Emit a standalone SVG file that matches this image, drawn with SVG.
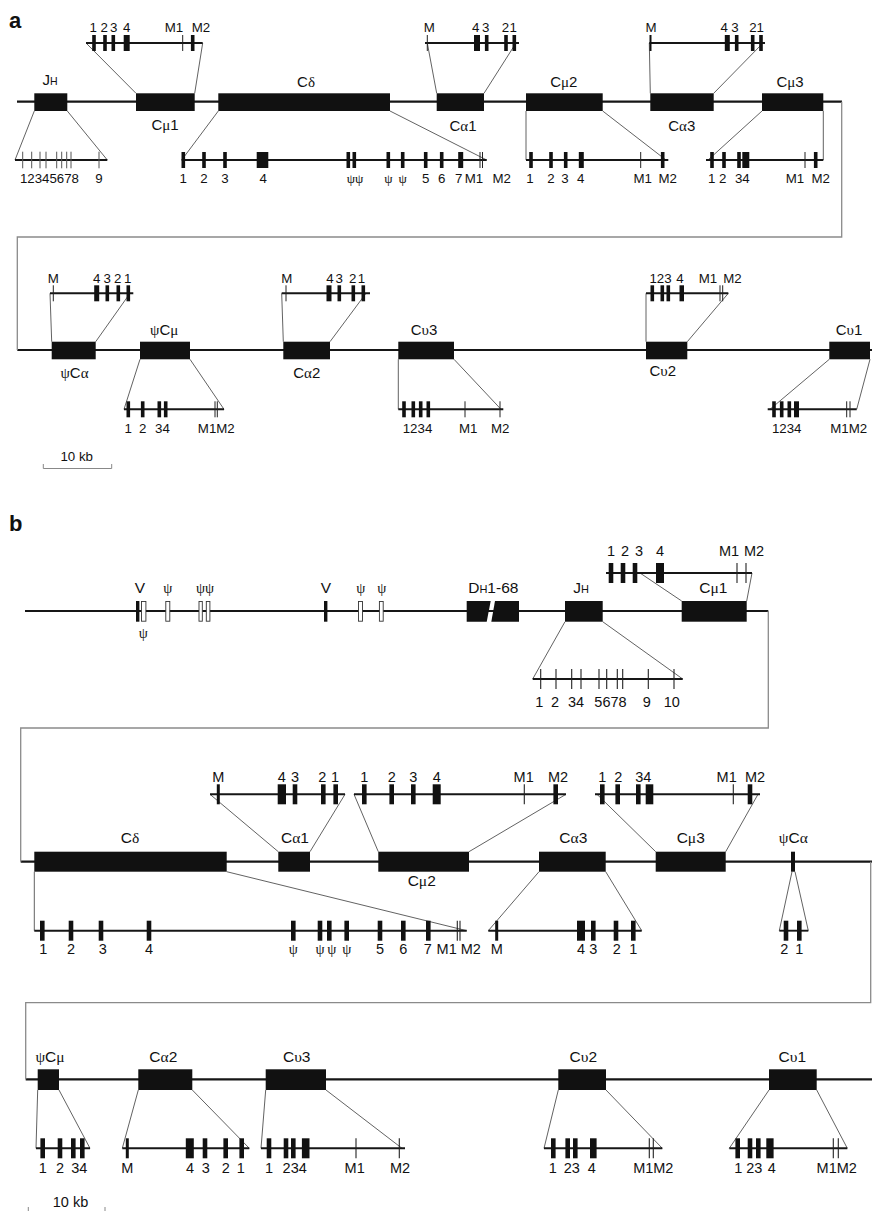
<svg xmlns="http://www.w3.org/2000/svg" width="872" height="1211" viewBox="0 0 872 1211">
<style>
.bb{stroke:#161616;stroke-width:2.2;fill:none}
.st{stroke:#161616;stroke-width:1.9;fill:none}
.cn{stroke:#3a3a3a;stroke-width:0.8;fill:none}
.lk{stroke:#8a8a8a;stroke-width:1.3;fill:none}
.bx{fill:#111}
.wb{fill:#fff;stroke:#333;stroke-width:0.9}
text{font-family:"Liberation Sans",Arial,sans-serif;fill:#111;text-anchor:middle}
.sa{font-size:13.3px}
.la{font-size:15px}
.sb{font-size:14.5px}
.lb{font-size:15.5px}
.g{font-family:"Liberation Serif","DejaVu Serif",serif}
.pl{font-size:22px;font-weight:bold;text-anchor:start}
</style>
<defs>
<rect id="xa" x="-1.8" y="-8" width="3.6" height="16" fill="#111"/>
<rect id="xaw" x="-3" y="-8" width="6" height="16" fill="#111"/>
<line id="ta" x1="0" y1="-8" x2="0" y2="8" stroke="#222" stroke-width="1"/>
<line id="tj" x1="0" y1="-8.3" x2="0" y2="8.3" stroke="#555" stroke-width="1"/>
<rect id="xb" x="-2.3" y="-10" width="4.6" height="20" fill="#111"/>
<rect id="xbw" x="-4" y="-10" width="8" height="20" fill="#111"/>
<line id="tb" x1="0" y1="-10" x2="0" y2="10" stroke="#222" stroke-width="1.1"/>
</defs>

<text class="pl" x="9" y="28">a</text>
<text class="pl" x="9" y="531">b</text>

<g id="backbone">
<line class="bb" x1="17" y1="101.7" x2="842" y2="101.7"/>
<line class="bb" x1="17.3" y1="350" x2="872" y2="350"/>
<line class="bb" x1="25" y1="611" x2="768.3" y2="611"/>
<line class="bb" x1="20.7" y1="861.7" x2="872" y2="861.7"/>
<line class="bb" x1="25.7" y1="1079.3" x2="872" y2="1079.3"/>
</g>

<g id="connectors">
<polyline class="lk" points="841.7,101.7 841.7,237 17.3,237 17.3,350"/>
<polyline class="lk" points="768.3,611 768.3,728 20.7,728 20.7,861.7"/>
<polyline class="lk" points="870.7,861.7 870.7,1002.7 25.7,1002.7 25.7,1079.3"/>
<!-- a row 1 -->
<line class="cn" x1="34.3" y1="111" x2="15" y2="160"/>
<line class="cn" x1="67.3" y1="111" x2="107.3" y2="160"/>
<line class="cn" x1="136" y1="93.3" x2="86" y2="43"/>
<line class="cn" x1="194.7" y1="93.3" x2="202.7" y2="43"/>
<line class="cn" x1="218.3" y1="111" x2="181.7" y2="160"/>
<line class="cn" x1="390" y1="111" x2="486.7" y2="160"/>
<line class="cn" x1="436.7" y1="93.3" x2="427.3" y2="43"/>
<line class="cn" x1="484" y1="93.3" x2="516" y2="43"/>
<line class="cn" x1="526" y1="111" x2="526" y2="160"/>
<line class="cn" x1="602.7" y1="111" x2="666" y2="160"/>
<line class="cn" x1="650.3" y1="93.3" x2="649.3" y2="43"/>
<line class="cn" x1="713.7" y1="93.3" x2="763" y2="43"/>
<line class="cn" x1="762" y1="111" x2="708" y2="160"/>
<line class="cn" x1="823.3" y1="111" x2="823.3" y2="160"/>
<!-- a row 2 -->
<line class="cn" x1="51.7" y1="341.7" x2="50" y2="293.3"/>
<line class="cn" x1="95.7" y1="341.7" x2="130" y2="293.3"/>
<line class="cn" x1="140" y1="359.3" x2="124" y2="409.3"/>
<line class="cn" x1="190" y1="359.3" x2="224" y2="409.3"/>
<line class="cn" x1="283.3" y1="341.7" x2="281.7" y2="293.3"/>
<line class="cn" x1="330" y1="341.7" x2="366" y2="293.3"/>
<line class="cn" x1="398.3" y1="359.3" x2="398.3" y2="409.3"/>
<line class="cn" x1="454" y1="359.3" x2="501" y2="409.3"/>
<line class="cn" x1="646" y1="341.7" x2="646" y2="293.3"/>
<line class="cn" x1="687.3" y1="341.7" x2="728.3" y2="293.3"/>
<line class="cn" x1="829.3" y1="359.3" x2="770" y2="409.3"/>
<line class="cn" x1="870" y1="359.3" x2="856.7" y2="409.3"/>
<!-- b row 1 -->
<line class="cn" x1="565" y1="621.7" x2="532.7" y2="679"/>
<line class="cn" x1="602.7" y1="621.7" x2="682.7" y2="679"/>
<line class="cn" x1="681.7" y1="601" x2="640" y2="573"/>
<line class="cn" x1="746.7" y1="601" x2="752" y2="573"/>
<!-- b row 2 -->
<line class="cn" x1="34.3" y1="871.7" x2="34.3" y2="930.7"/>
<line class="cn" x1="226.7" y1="871.7" x2="466.7" y2="930.7"/>
<line class="cn" x1="278.3" y1="851.7" x2="210" y2="794.3"/>
<line class="cn" x1="310" y1="851.7" x2="345" y2="794.3"/>
<line class="cn" x1="378.3" y1="851.7" x2="354" y2="794.3"/>
<line class="cn" x1="469" y1="851.7" x2="566" y2="794.3"/>
<line class="cn" x1="539" y1="871.7" x2="488.3" y2="930.7"/>
<line class="cn" x1="605.7" y1="871.7" x2="641.7" y2="930.7"/>
<line class="cn" x1="655.7" y1="851.7" x2="597" y2="794.3"/>
<line class="cn" x1="725.7" y1="851.7" x2="758" y2="794.3"/>
<line class="cn" x1="792" y1="871.7" x2="779.3" y2="930.7"/>
<line class="cn" x1="795" y1="871.7" x2="808.3" y2="930.7"/>
<!-- b row 3 -->
<line class="cn" x1="37.7" y1="1090" x2="36" y2="1148.3"/>
<line class="cn" x1="59" y1="1090" x2="90" y2="1148.3"/>
<line class="cn" x1="138.3" y1="1090" x2="122.3" y2="1148.3"/>
<line class="cn" x1="192.3" y1="1090" x2="249.3" y2="1148.3"/>
<line class="cn" x1="265.7" y1="1090" x2="261" y2="1148.3"/>
<line class="cn" x1="326" y1="1090" x2="402" y2="1148.3"/>
<line class="cn" x1="558.3" y1="1090" x2="544" y2="1148.3"/>
<line class="cn" x1="606" y1="1090" x2="662.3" y2="1148.3"/>
<line class="cn" x1="769" y1="1090" x2="729.3" y2="1148.3"/>
<line class="cn" x1="816.7" y1="1090" x2="847.3" y2="1148.3"/>
</g>

<!-- ===== Panel a, row 1 ===== -->
<g id="a-JH">
<rect class="bx" x="34.3" y="93.3" width="33" height="17.7"/>
<text class="la" x="50" y="85">J<tspan font-size="10.5">H</tspan></text>
<line class="st" x1="15" y1="160" x2="107.3" y2="160"/>
<use href="#tj" x="22.7" y="160"/><use href="#tj" x="31.7" y="160"/><use href="#tj" x="40" y="160"/><use href="#tj" x="46" y="160"/>
<use href="#tj" x="56.7" y="160"/><use href="#tj" x="61.7" y="160"/><use href="#tj" x="66.7" y="160"/><use href="#tj" x="71" y="160"/><use href="#tj" x="99" y="160"/>
<text class="sa" x="49.5" y="183.3" textLength="59" lengthAdjust="spacingAndGlyphs">12345678</text>
<text class="sa" x="99" y="183.3">9</text>
</g>

<g id="a-Cmu1">
<rect class="bx" x="136" y="93.3" width="58.7" height="17.7"/>
<text class="la" x="165" y="130">C<tspan class="g">μ</tspan>1</text>
<line class="st" x1="86" y1="43" x2="202.7" y2="43"/>
<use href="#xa" x="94" y="43"/><use href="#xa" x="105" y="43"/><use href="#xa" x="113.3" y="43"/><use href="#xaw" x="126.7" y="43"/>
<use href="#ta" x="182.7" y="43"/><use href="#xa" x="192.7" y="43"/>
<text class="sa" x="93.3" y="31.7">1</text><text class="sa" x="104.2" y="31.7">2</text><text class="sa" x="113.8" y="31.7">3</text><text class="sa" x="126.7" y="31.7">4</text>
<text class="sa" x="174" y="31.7">M1</text><text class="sa" x="201" y="31.7">M2</text>
</g>

<g id="a-Cdelta">
<rect class="bx" x="218.3" y="93.3" width="171.7" height="17.7"/>
<text class="la" x="306" y="87">C<tspan class="g">δ</tspan></text>
<line class="st" x1="181.7" y1="160" x2="486.7" y2="160"/>
<use href="#xa" x="183.3" y="160"/><use href="#xa" x="204" y="160"/><use href="#xa" x="225" y="160"/>
<rect class="bx" x="256.7" y="152" width="11.6" height="16"/>
<use href="#xa" x="348.3" y="160"/><use href="#xa" x="354.3" y="160"/><use href="#xa" x="388.3" y="160"/><use href="#xa" x="402.7" y="160"/>
<use href="#xa" x="425.7" y="160"/><use href="#xa" x="441.7" y="160"/><rect class="bx" x="458.2" y="152" width="5" height="16"/>
<use href="#ta" x="480" y="160"/><use href="#ta" x="482.5" y="160"/>
<text class="sa" x="183.3" y="183.3">1</text><text class="sa" x="204" y="183.3">2</text><text class="sa" x="225" y="183.3">3</text><text class="sa" x="263.3" y="183.3">4</text>
<text class="sa g" x="355" y="183.3">ψψ</text><text class="sa g" x="388.3" y="183.3">ψ</text><text class="sa g" x="402.7" y="183.3">ψ</text>
<text class="sa" x="425.7" y="183.3">5</text><text class="sa" x="441.7" y="183.3">6</text><text class="sa" x="458.8" y="183.3">7</text>
<text class="sa" x="474" y="183.3">M1</text><text class="sa" x="501.7" y="183.3">M2</text>
</g>

<g id="a-Calpha1">
<rect class="bx" x="436.7" y="93.3" width="47.3" height="17.7"/>
<text class="la" x="463" y="131">C<tspan class="g">α</tspan>1</text>
<line class="st" x1="425" y1="43" x2="519" y2="43"/>
<use href="#ta" x="427.3" y="43"/><use href="#xaw" x="477" y="43"/><use href="#xa" x="486.7" y="43"/><use href="#xa" x="506" y="43"/><use href="#xa" x="514.3" y="43"/>
<text class="sa" x="429.3" y="31.7">M</text><text class="sa" x="475.8" y="31.7">4</text><text class="sa" x="485.8" y="31.7">3</text>
<text class="sa" x="505.5" y="31.7">2</text><text class="sa" x="513.3" y="31.7">1</text>
</g>

<g id="a-Cmu2">
<rect class="bx" x="526" y="93.3" width="76.7" height="17.7"/>
<text class="la" x="563.8" y="86.5">C<tspan class="g">μ</tspan>2</text>
<line class="st" x1="526" y1="160" x2="668.3" y2="160"/>
<use href="#xa" x="531" y="160"/><use href="#xa" x="551" y="160"/><use href="#xa" x="565.7" y="160"/><rect class="bx" x="578.8" y="152" width="5" height="16"/>
<use href="#ta" x="640.7" y="160"/><use href="#xa" x="662.7" y="160"/>
<text class="sa" x="530" y="183.3">1</text><text class="sa" x="551" y="183.3">2</text><text class="sa" x="565" y="183.3">3</text><text class="sa" x="580.7" y="183.3">4</text>
<text class="sa" x="642.7" y="183.3">M1</text><text class="sa" x="667.7" y="183.3">M2</text>
</g>

<g id="a-Calpha3">
<rect class="bx" x="650.3" y="93.3" width="63.4" height="17.7"/>
<text class="la" x="681.7" y="131">C<tspan class="g">α</tspan>3</text>
<line class="st" x1="649.3" y1="43" x2="765" y2="43"/>
<line x1="650.5" y1="35" x2="650.5" y2="51" stroke="#111" stroke-width="2"/>
<rect class="bx" x="724.8" y="35" width="5" height="16"/><use href="#xa" x="736.7" y="43"/><use href="#xa" x="752.7" y="43"/><use href="#xa" x="761" y="43"/>
<text class="sa" x="651" y="31.7">M</text><text class="sa" x="724.2" y="31.7">4</text><text class="sa" x="735" y="31.7">3</text>
<text class="sa" x="753" y="31.7">2</text><text class="sa" x="760.3" y="31.7">1</text>
</g>

<g id="a-Cmu3">
<rect class="bx" x="762" y="93.3" width="61.3" height="17.7"/>
<text class="la" x="790" y="86.5">C<tspan class="g">μ</tspan>3</text>
<line class="st" x1="706" y1="160" x2="823.3" y2="160"/>
<use href="#xa" x="712" y="160"/><use href="#xa" x="724" y="160"/><use href="#xa" x="739" y="160"/><rect class="bx" x="742.3" y="152" width="7" height="16"/>
<use href="#ta" x="805" y="160"/><use href="#xa" x="815.7" y="160"/>
<text class="sa" x="711.7" y="183.3">1</text><text class="sa" x="722.7" y="183.3">2</text><text class="sa" x="742.3" y="183.3">34</text>
<text class="sa" x="795" y="183.3">M1</text><text class="sa" x="820.7" y="183.3">M2</text>
</g>

<!-- ===== Panel a, row 2 ===== -->
<g id="a-psiCalpha">
<rect class="bx" x="51.7" y="341.7" width="44" height="17.6"/>
<text class="la" x="74.5" y="378"><tspan class="g">ψ</tspan>C<tspan class="g">α</tspan></text>
<line class="st" x1="50" y1="293.3" x2="133.3" y2="293.3"/>
<use href="#ta" x="53.3" y="293.3"/><rect class="bx" x="94.2" y="285.3" width="5" height="16"/><use href="#xa" x="107.3" y="293.3"/><use href="#xa" x="118.3" y="293.3"/><use href="#xa" x="128.3" y="293.3"/>
<text class="sa" x="53.3" y="283.3">M</text><text class="sa" x="96.7" y="283.3">4</text><text class="sa" x="107.3" y="283.3">3</text><text class="sa" x="117.7" y="283.3">2</text><text class="sa" x="127.7" y="283.3">1</text>
</g>

<g id="a-psiCmu">
<rect class="bx" x="140" y="341.7" width="50" height="17.6"/>
<text class="la" x="164.2" y="335"><tspan class="g">ψ</tspan>C<tspan class="g">μ</tspan></text>
<line class="st" x1="124" y1="409.3" x2="224" y2="409.3"/>
<use href="#xa" x="128.3" y="409.3"/><use href="#xa" x="142.7" y="409.3"/><use href="#xa" x="159.3" y="409.3"/><use href="#xa" x="165.7" y="409.3"/>
<use href="#ta" x="215" y="409.3"/><use href="#ta" x="217.3" y="409.3"/>
<text class="sa" x="128.3" y="432.7">1</text><text class="sa" x="142.7" y="432.7">2</text><text class="sa" x="162.5" y="432.7">34</text><text class="sa" x="216.3" y="432.7">M1M2</text>
</g>

<g id="a-Calpha2">
<rect class="bx" x="283.3" y="341.7" width="46.7" height="17.6"/>
<text class="la" x="306.7" y="378">C<tspan class="g">α</tspan>2</text>
<line class="st" x1="281.7" y1="293.3" x2="370" y2="293.3"/>
<use href="#ta" x="286" y="293.3"/><rect class="bx" x="326.5" y="285.3" width="5" height="16"/><use href="#xa" x="339.3" y="293.3"/><use href="#xa" x="353.3" y="293.3"/><use href="#xa" x="363.3" y="293.3"/>
<text class="sa" x="286.7" y="283.3">M</text><text class="sa" x="330" y="283.3">4</text><text class="sa" x="339.3" y="283.3">3</text><text class="sa" x="352.7" y="283.3">2</text><text class="sa" x="361.5" y="283.3">1</text>
</g>

<g id="a-Cups3">
<rect class="bx" x="398.3" y="341.7" width="55.7" height="17.6"/>
<text class="la" x="424" y="335">C<tspan class="g">υ</tspan>3</text>
<line class="st" x1="398.3" y1="409.3" x2="503.3" y2="409.3"/>
<use href="#xa" x="404" y="409.3"/><use href="#xa" x="413.3" y="409.3"/><use href="#xa" x="420.7" y="409.3"/><use href="#xa" x="428.3" y="409.3"/>
<use href="#ta" x="465" y="409.3"/><use href="#ta" x="500" y="409.3"/>
<text class="sa" x="417.5" y="432.7">1234</text><text class="sa" x="468.3" y="432.7">M1</text><text class="sa" x="500.3" y="432.7">M2</text>
</g>

<g id="a-Cups2">
<rect class="bx" x="646" y="341.7" width="41.3" height="17.6"/>
<text class="la" x="662.8" y="376">C<tspan class="g">υ</tspan>2</text>
<line class="st" x1="646" y1="293.3" x2="728.3" y2="293.3"/>
<use href="#xa" x="652.3" y="293.3"/><use href="#xa" x="662.3" y="293.3"/><use href="#xa" x="668.3" y="293.3"/><rect class="bx" x="679.5" y="285.3" width="4.5" height="16"/>
<use href="#ta" x="720" y="293.3"/><use href="#ta" x="722.7" y="293.3"/>
<text class="sa" x="660.5" y="283.3">123</text><text class="sa" x="680" y="283.3">4</text><text class="sa" x="708" y="283.3">M1</text><text class="sa" x="732.5" y="283.3">M2</text>
</g>

<g id="a-Cups1">
<rect class="bx" x="829.3" y="341.7" width="40.7" height="17.6"/>
<text class="la" x="849" y="335">C<tspan class="g">υ</tspan>1</text>
<line class="st" x1="767.7" y1="409.3" x2="856.7" y2="409.3"/>
<use href="#xa" x="774" y="409.3"/><use href="#xa" x="781.7" y="409.3"/><use href="#xa" x="789.3" y="409.3"/><rect class="bx" x="794" y="401.3" width="5" height="16"/>
<use href="#ta" x="846.7" y="409.3"/><use href="#ta" x="850" y="409.3"/>
<text class="sa" x="786.7" y="432.7">1234</text><text class="sa" x="848.7" y="432.7">M1M2</text>
</g>

<g id="a-scale">
<text class="sa" x="76.7" y="461">10 kb</text>
<polyline fill="none" stroke="#888" stroke-width="1" points="43.3,464 43.3,468.5 111.7,468.5 111.7,464"/>
</g>

<!-- ===== Panel b, row 1 ===== -->
<g id="b-V-cluster">
<rect class="bx" x="136" y="601" width="3.4" height="20.7"/>
<rect class="wb" x="141.5" y="601.5" width="4.4" height="19.7"/>
<rect class="wb" x="165.8" y="601.5" width="4" height="19.7"/>
<rect class="wb" x="199" y="601.5" width="3.3" height="19.7"/>
<rect class="wb" x="206.3" y="601.5" width="3.6" height="19.7"/>
<rect class="bx" x="324" y="601" width="3.4" height="20.7"/>
<rect class="wb" x="358.5" y="601.5" width="4" height="19.7"/>
<rect class="wb" x="379.4" y="601.5" width="3.8" height="19.7"/>
<text class="lb" x="140" y="593.3">V</text>
<text class="sb g" x="143.3" y="638">ψ</text>
<text class="sb g" x="167.7" y="593.3">ψ</text>
<text class="sb g" x="205" y="593.3">ψψ</text>
<text class="lb" x="326" y="593.3">V</text>
<text class="sb g" x="360.7" y="593.3">ψ</text>
<text class="sb g" x="381.7" y="593.3">ψ</text>
</g>

<g id="b-DH">
<polygon class="bx" points="466.7,601 490.7,601 486.7,621.7 466.7,621.7"/>
<polygon class="bx" points="495,601 519,601 519,621.7 491.3,621.7"/>
<text class="lb" x="493.3" y="593.3">D<tspan font-size="11">H</tspan>1-68</text>
</g>

<g id="b-JH">
<rect class="bx" x="565" y="601" width="37.7" height="20.7"/>
<text class="lb" x="581" y="593.3">J<tspan font-size="11">H</tspan></text>
<line class="st" x1="532.7" y1="679" x2="682.7" y2="679"/>
<use href="#tb" x="540.7" y="679"/><use href="#tb" x="556" y="679"/><use href="#tb" x="571.7" y="679"/><use href="#tb" x="581" y="679"/>
<use href="#tb" x="599" y="679"/><use href="#tb" x="606.7" y="679"/><use href="#tb" x="617.3" y="679"/><use href="#tb" x="622.7" y="679"/>
<use href="#tb" x="648.3" y="679"/><use href="#tb" x="674" y="679"/>
<text class="sb" x="539.3" y="707">1</text><text class="sb" x="555" y="707">2</text><text class="sb" x="576" y="707">34</text>
<text class="sb" x="610.5" y="707">5678</text><text class="sb" x="646.7" y="707">9</text><text class="sb" x="671.7" y="707">10</text>
</g>

<g id="b-Cmu1">
<rect class="bx" x="681.7" y="601" width="65" height="20.7"/>
<text class="lb" x="713.3" y="593.3">C<tspan class="g">μ</tspan>1</text>
<line class="st" x1="606" y1="573" x2="752" y2="573"/>
<use href="#xb" x="611" y="573"/><use href="#xb" x="623" y="573"/><use href="#xb" x="635" y="573"/><use href="#xbw" x="660" y="573"/>
<use href="#tb" x="737" y="573"/><use href="#tb" x="746" y="573"/>
<text class="sb" x="611" y="556">1</text><text class="sb" x="625" y="556">2</text><text class="sb" x="639" y="556">3</text><text class="sb" x="660" y="556">4</text>
<text class="sb" x="729" y="556">M1</text><text class="sb" x="754" y="556">M2</text>
</g>

<!-- ===== Panel b, row 2 ===== -->
<g id="b-Cdelta">
<rect class="bx" x="34.3" y="851.7" width="192.4" height="20"/>
<text class="lb" x="130" y="843">C<tspan class="g">δ</tspan></text>
<line class="st" x1="34.3" y1="930.7" x2="466.7" y2="930.7"/>
<use href="#xb" x="42.3" y="930.7"/><use href="#xb" x="71" y="930.7"/><use href="#xb" x="101" y="930.7"/><use href="#xb" x="149" y="930.7"/>
<use href="#xb" x="293.3" y="930.7"/><use href="#xb" x="320" y="930.7"/><use href="#xb" x="329.3" y="930.7"/><use href="#xb" x="346.7" y="930.7"/>
<use href="#xb" x="380" y="930.7"/><use href="#xb" x="403.3" y="930.7"/><use href="#xb" x="428.3" y="930.7"/>
<use href="#tb" x="457.3" y="930.7"/><use href="#tb" x="460" y="930.7"/>
<text class="sb" x="43.3" y="954">1</text><text class="sb" x="71" y="954">2</text><text class="sb" x="102.7" y="954">3</text><text class="sb" x="149" y="954">4</text>
<text class="sb g" x="293.3" y="954">ψ</text><text class="sb g" x="320" y="954">ψ</text><text class="sb g" x="331.7" y="954">ψ</text><text class="sb g" x="346.7" y="954">ψ</text>
<text class="sb" x="380" y="954">5</text><text class="sb" x="403.3" y="954">6</text><text class="sb" x="427.7" y="954">7</text>
<text class="sb" x="446.7" y="954">M1</text><text class="sb" x="470.8" y="954">M2</text>
</g>

<g id="b-Calpha1">
<rect class="bx" x="278.3" y="851.7" width="31.7" height="20"/>
<text class="lb" x="295" y="843">C<tspan class="g">α</tspan>1</text>
<line class="st" x1="210" y1="794.3" x2="345" y2="794.3"/>
<rect class="bx" x="216.8" y="784.3" width="3" height="20"/><rect class="bx" x="277.7" y="784.3" width="8.3" height="20"/>
<use href="#xb" x="295" y="794.3"/><use href="#xb" x="323.3" y="794.3"/><use href="#xb" x="335.7" y="794.3"/>
<text class="sb" x="218.3" y="781.7">M</text><text class="sb" x="281.7" y="781.7">4</text><text class="sb" x="295" y="781.7">3</text>
<text class="sb" x="322.3" y="781.7">2</text><text class="sb" x="335" y="781.7">1</text>
</g>

<g id="b-Cmu2">
<rect class="bx" x="378.3" y="851.7" width="90.7" height="20"/>
<text class="lb" x="421.7" y="886">C<tspan class="g">μ</tspan>2</text>
<line class="st" x1="354" y1="794.3" x2="566" y2="794.3"/>
<use href="#xb" x="364.3" y="794.3"/><use href="#xb" x="391.7" y="794.3"/><use href="#xb" x="413.3" y="794.3"/><use href="#xbw" x="436.7" y="794.3"/>
<use href="#tb" x="524.3" y="794.3"/><use href="#xb" x="555.7" y="794.3"/>
<text class="sb" x="364.3" y="781.7">1</text><text class="sb" x="391.7" y="781.7">2</text><text class="sb" x="413.3" y="781.7">3</text><text class="sb" x="436.7" y="781.7">4</text>
<text class="sb" x="523.7" y="781.7">M1</text><text class="sb" x="558" y="781.7">M2</text>
</g>

<g id="b-Calpha3">
<rect class="bx" x="539" y="851.7" width="66.7" height="20"/>
<text class="lb" x="573.3" y="843">C<tspan class="g">α</tspan>3</text>
<line class="st" x1="488.3" y1="930.7" x2="641.7" y2="930.7"/>
<rect class="bx" x="495.2" y="920.7" width="3" height="20"/><use href="#xbw" x="581" y="930.7"/>
<use href="#xb" x="593.3" y="930.7"/><use href="#xb" x="616" y="930.7"/><use href="#xb" x="633.3" y="930.7"/>
<text class="sb" x="496.7" y="954">M</text><text class="sb" x="581" y="954">4</text><text class="sb" x="593.3" y="954">3</text>
<text class="sb" x="616.7" y="954">2</text><text class="sb" x="633.3" y="954">1</text>
</g>

<g id="b-Cmu3">
<rect class="bx" x="655.7" y="851.7" width="70" height="20"/>
<text class="lb" x="690.7" y="843">C<tspan class="g">μ</tspan>3</text>
<line class="st" x1="595" y1="794.3" x2="760" y2="794.3"/>
<use href="#xb" x="602.3" y="794.3"/><use href="#xb" x="617.7" y="794.3"/><use href="#xb" x="638.3" y="794.3"/>
<rect class="bx" x="645.7" y="784.3" width="7.6" height="20"/>
<use href="#tb" x="733.3" y="794.3"/><use href="#xb" x="750" y="794.3"/>
<text class="sb" x="602.3" y="781.7">1</text><text class="sb" x="618.3" y="781.7">2</text><text class="sb" x="643.3" y="781.7">34</text>
<text class="sb" x="726.7" y="781.7">M1</text><text class="sb" x="755" y="781.7">M2</text>
</g>

<g id="b-psiCalpha">
<rect class="bx" x="791" y="851.7" width="4" height="20"/>
<text class="lb" x="793.3" y="843"><tspan class="g">ψ</tspan>C<tspan class="g">α</tspan></text>
<line class="st" x1="779.3" y1="930.7" x2="808.3" y2="930.7"/>
<use href="#xb" x="786" y="930.7"/><use href="#xb" x="799.3" y="930.7"/>
<text class="sb" x="784.3" y="954">2</text><text class="sb" x="799.3" y="954">1</text>
</g>

<!-- ===== Panel b, row 3 ===== -->
<g id="b-psiCmu">
<rect class="bx" x="37.7" y="1069.3" width="21.3" height="20.7"/>
<text class="lb" x="50" y="1061.5"><tspan class="g">ψ</tspan>C<tspan class="g">μ</tspan></text>
<line class="st" x1="36" y1="1148.3" x2="90" y2="1148.3"/>
<use href="#xb" x="42.7" y="1148.3"/><use href="#xb" x="60" y="1148.3"/><use href="#xb" x="73.3" y="1148.3"/><use href="#xb" x="82.3" y="1148.3"/>
<text class="sb" x="42.7" y="1172.7">1</text><text class="sb" x="60" y="1172.7">2</text><text class="sb" x="79.2" y="1172.7">34</text>
</g>

<g id="b-Calpha2">
<rect class="bx" x="138.3" y="1069.3" width="54" height="20.7"/>
<text class="lb" x="163.3" y="1061.5">C<tspan class="g">α</tspan>2</text>
<line class="st" x1="122.3" y1="1148.3" x2="249.3" y2="1148.3"/>
<rect class="bx" x="125.8" y="1138.3" width="3" height="20"/><use href="#xbw" x="189.8" y="1148.3"/>
<use href="#xb" x="205" y="1148.3"/><use href="#xb" x="225.7" y="1148.3"/><use href="#xb" x="241.7" y="1148.3"/>
<text class="sb" x="127.3" y="1172.7">M</text><text class="sb" x="190" y="1172.7">4</text><text class="sb" x="205.7" y="1172.7">3</text>
<text class="sb" x="225.7" y="1172.7">2</text><text class="sb" x="240.7" y="1172.7">1</text>
</g>

<g id="b-Cups3">
<rect class="bx" x="265.7" y="1069.3" width="60.3" height="20.7"/>
<text class="lb" x="296.7" y="1061.5">C<tspan class="g">υ</tspan>3</text>
<line class="st" x1="261" y1="1148.3" x2="405" y2="1148.3"/>
<use href="#xb" x="269" y="1148.3"/><use href="#xb" x="286" y="1148.3"/><use href="#xb" x="293.3" y="1148.3"/>
<rect class="bx" x="301.9" y="1138.3" width="7.6" height="20"/>
<use href="#tb" x="356" y="1148.3"/><use href="#tb" x="399.3" y="1148.3"/>
<text class="sb" x="269" y="1172.7">1</text><text class="sb" x="294.7" y="1172.7">234</text>
<text class="sb" x="354.7" y="1172.7">M1</text><text class="sb" x="400" y="1172.7">M2</text>
</g>

<g id="b-Cups2">
<rect class="bx" x="558.3" y="1069.3" width="47.7" height="20.7"/>
<text class="lb" x="583.3" y="1061.5">C<tspan class="g">υ</tspan>2</text>
<line class="st" x1="544" y1="1148.3" x2="662.3" y2="1148.3"/>
<use href="#xb" x="553.3" y="1148.3"/><use href="#xb" x="567.7" y="1148.3"/><use href="#xb" x="575.3" y="1148.3"/>
<rect class="bx" x="590" y="1138.3" width="6.6" height="20"/>
<use href="#tb" x="649.3" y="1148.3"/><use href="#tb" x="653.3" y="1148.3"/>
<text class="sb" x="552.7" y="1172.7">1</text><text class="sb" x="571.7" y="1172.7">23</text><text class="sb" x="591.7" y="1172.7">4</text>
<text class="sb" x="653.3" y="1172.7">M1M2</text>
</g>

<g id="b-Cups1">
<rect class="bx" x="769" y="1069.3" width="47.7" height="20.7"/>
<text class="lb" x="792.3" y="1061.5">C<tspan class="g">υ</tspan>1</text>
<line class="st" x1="729.3" y1="1148.3" x2="847.3" y2="1148.3"/>
<use href="#xb" x="737.7" y="1148.3"/><use href="#xb" x="750" y="1148.3"/><use href="#xb" x="758.3" y="1148.3"/>
<rect class="bx" x="766.3" y="1138.3" width="7.3" height="20"/>
<use href="#tb" x="833.3" y="1148.3"/><use href="#tb" x="838.3" y="1148.3"/>
<text class="sb" x="738.3" y="1172.7">1</text><text class="sb" x="754.2" y="1172.7">23</text><text class="sb" x="771.7" y="1172.7">4</text>
<text class="sb" x="836.7" y="1172.7">M1M2</text>
</g>

<g id="b-scale">
<text class="sb" x="70.5" y="1206.5">10 kb</text>
<line x1="28.3" y1="1207" x2="28.3" y2="1211" stroke="#888" stroke-width="1"/>
<line x1="105" y1="1207" x2="105" y2="1211" stroke="#888" stroke-width="1"/>
</g>
</svg>
